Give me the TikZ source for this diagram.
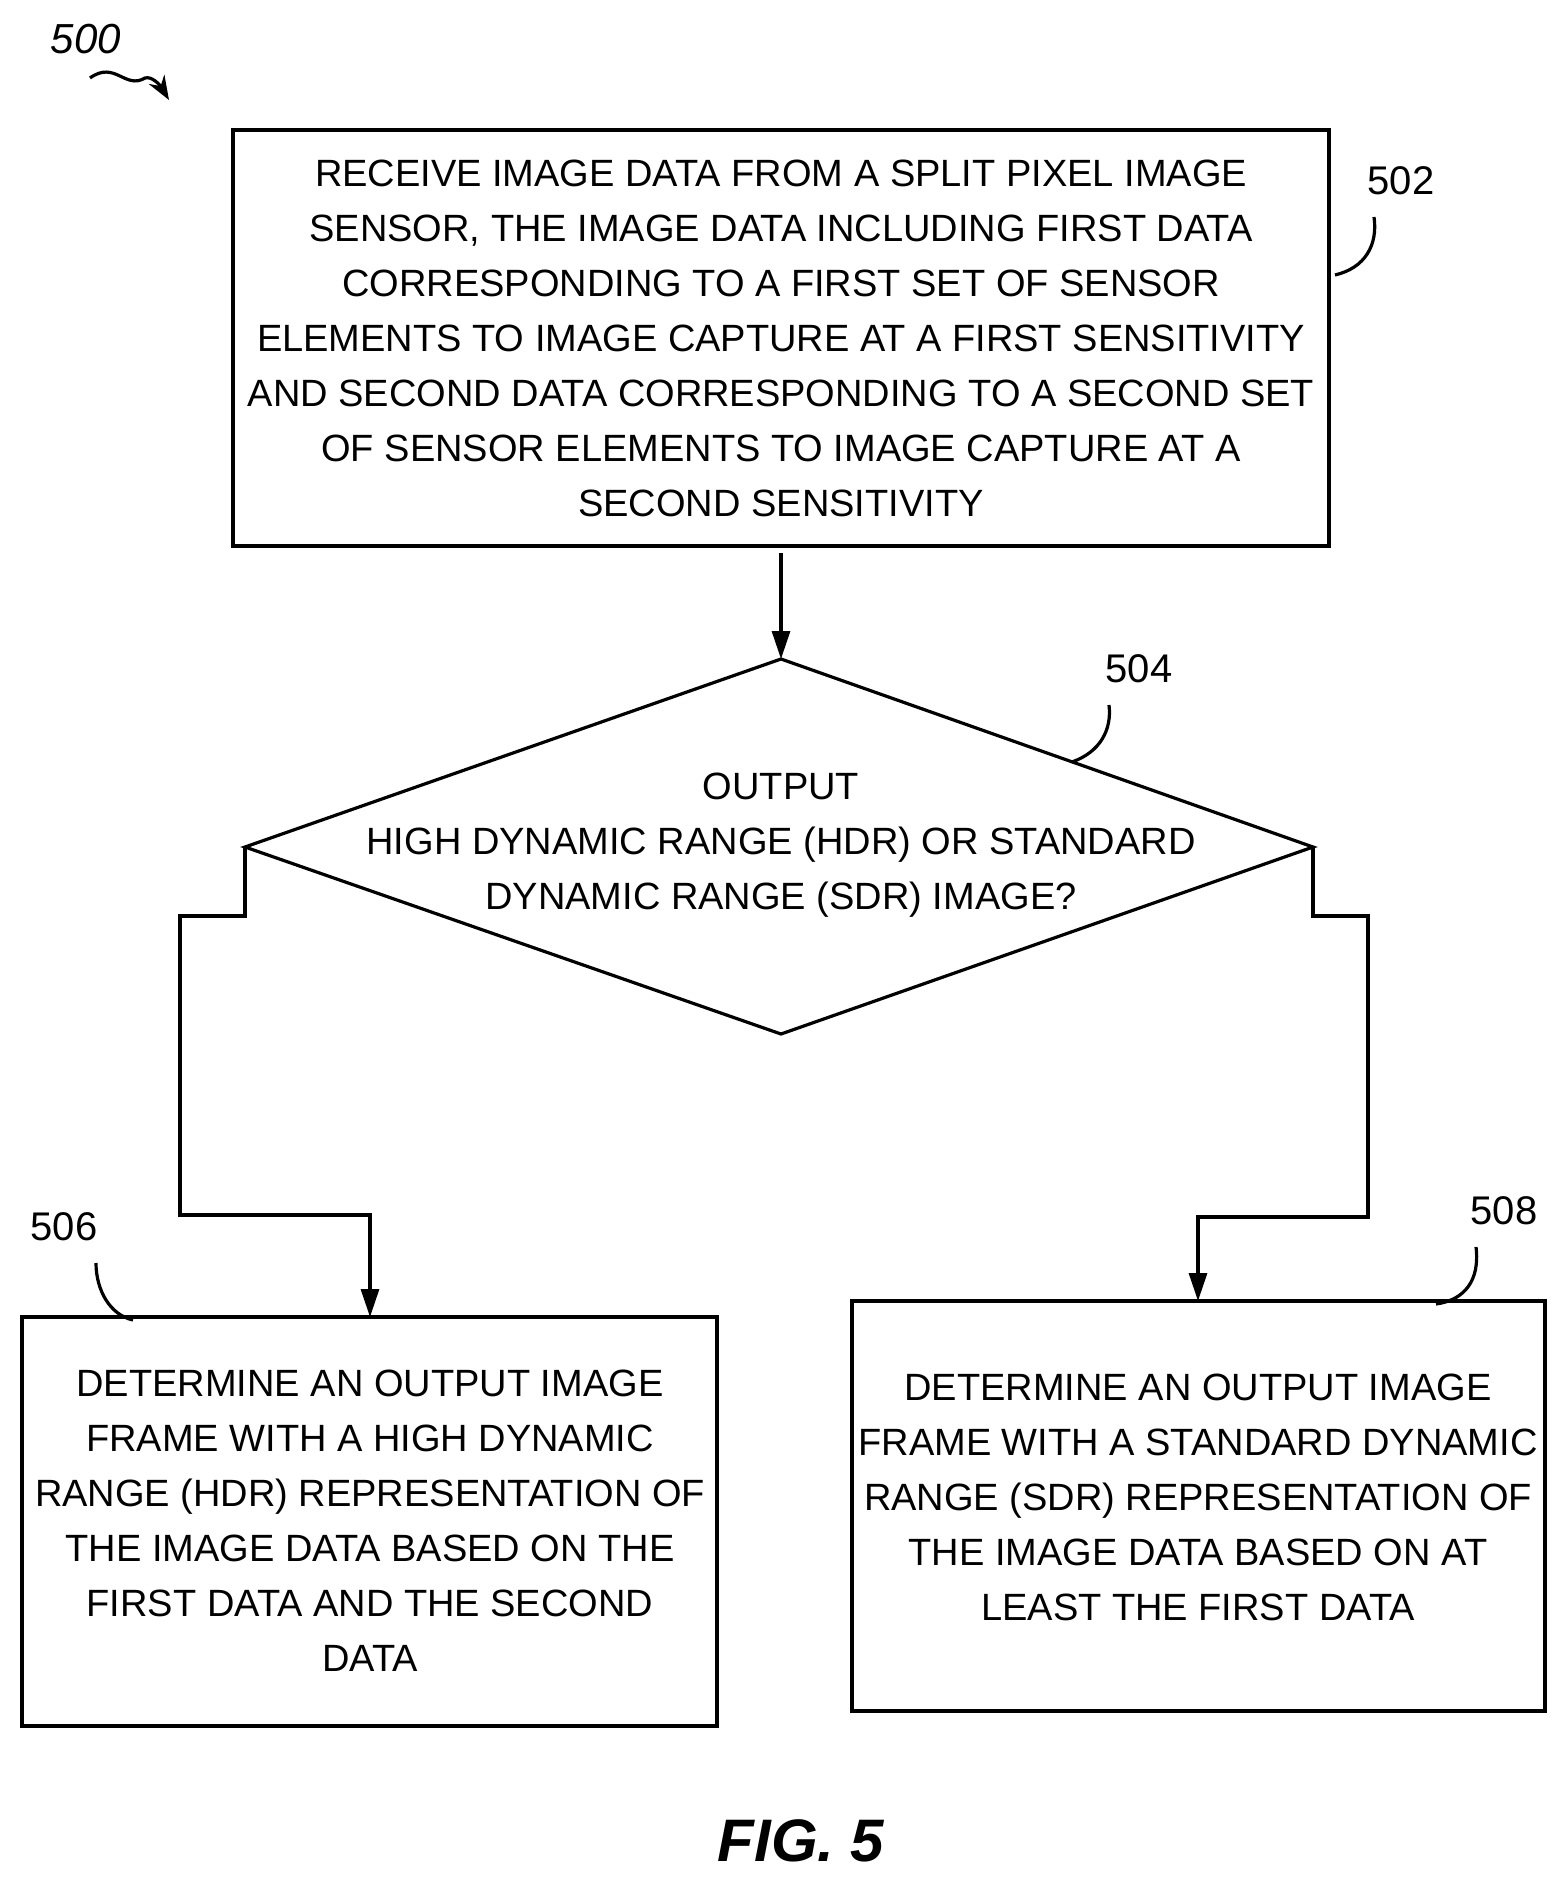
\documentclass[tikz,border=0pt]{standalone}
\usepackage{fontspec}
\setmainfont{Liberation Sans}
\usetikzlibrary{arrows.meta}
\begin{document}
\begin{tikzpicture}[x=0.5pt,y=-0.5pt,
  txt/.style={font=\fontsize{19}{27.5}\selectfont,align=center},
  box/.style={draw,line width=1.6pt},
  ln/.style={line width=1.6pt},
  arr/.style={ln,-{Triangle[length=14pt,width=9pt]}},
  lab/.style={font=\fontsize{20}{22}\selectfont}]
\useasboundingbox (0,0) rectangle (1566,1888);
\draw[box] (233,130) rectangle (1329,546);
\node[txt] (t502) at (781,338) {RECEIVE IMAGE DATA FROM A SPLIT PIXEL IMAGE\\SENSOR, THE IMAGE DATA INCLUDING FIRST DATA\\CORRESPONDING TO A FIRST SET OF SENSOR\\ELEMENTS TO IMAGE CAPTURE AT A FIRST SENSITIVITY\\AND SECOND DATA CORRESPONDING TO A SECOND SET\\OF SENSOR ELEMENTS TO IMAGE CAPTURE AT A\\SECOND SENSITIVITY};
\coordinate (b502) at (781,553);
\coordinate (dt) at (781,659);
\coordinate (dl) at (245,847);
\coordinate (dr) at (1313,847);
\coordinate (db) at (781,1034);
\draw[ln] (dt) -- (dr) -- (db) -- (dl) -- cycle;
\node[txt] (t504) at (781,845) {OUTPUT\\HIGH DYNAMIC RANGE (HDR) OR STANDARD\\DYNAMIC RANGE (SDR) IMAGE?};
\draw[arr] (b502) -- (dt);
\draw[box] (22,1317) rectangle (717,1726);
\node[txt] (t506) at (370,1521) {DETERMINE AN OUTPUT IMAGE\\FRAME WITH A HIGH DYNAMIC\\RANGE (HDR) REPRESENTATION OF\\THE IMAGE DATA BASED ON THE\\FIRST DATA AND THE SECOND\\DATA};
\draw[box] (852,1301) rectangle (1545,1711);
\node[txt] (t508) at (1198,1497) {DETERMINE AN OUTPUT IMAGE\\FRAME WITH A STANDARD DYNAMIC\\RANGE (SDR) REPRESENTATION OF\\THE IMAGE DATA BASED ON AT\\LEAST THE FIRST DATA};
\coordinate (a506) at (370,1317);
\coordinate (a508) at (1198,1301);
\draw[arr] (dl) -- (245,916) -- (180,916) -- (180,1215) -- (370,1215) -- (a506);
\draw[arr] (dr) -- (1313,916) -- (1368,916) -- (1368,1217) -- (1198,1217) -- (a508);
\node[lab] (l502) at (1401,181) {502};
\node[lab] (l504) at (1139,669) {504};
\node[lab] (l506) at (64,1227) {506};
\node[lab] (l508) at (1504,1211) {508};
\node[lab,font=\fontsize{21}{22}\selectfont\itshape] (l500) at (86,39) {500};
\draw[ln] (1335,275) .. controls (1365,268) and (1378,245) .. (1374,217);
\draw[ln] (1072,762) .. controls (1100,752) and (1112,730) .. (1109,705);
\draw[ln] (96,1263) .. controls (96,1290) and (110,1315) .. (133,1320);
\draw[ln] (1476,1247) .. controls (1480,1280) and (1465,1300) .. (1436,1304);
\draw[ln,-{Stealth[length=12pt,width=9pt]}] (90,78) .. controls (115,60) and (125,90) .. (145,78) .. controls (152,76) and (160,85) .. (169,100);
\node[font=\fontsize{30}{34}\selectfont\bfseries\itshape] (fig) at (801,1841) {FIG. 5};
\end{tikzpicture}
\end{document}
